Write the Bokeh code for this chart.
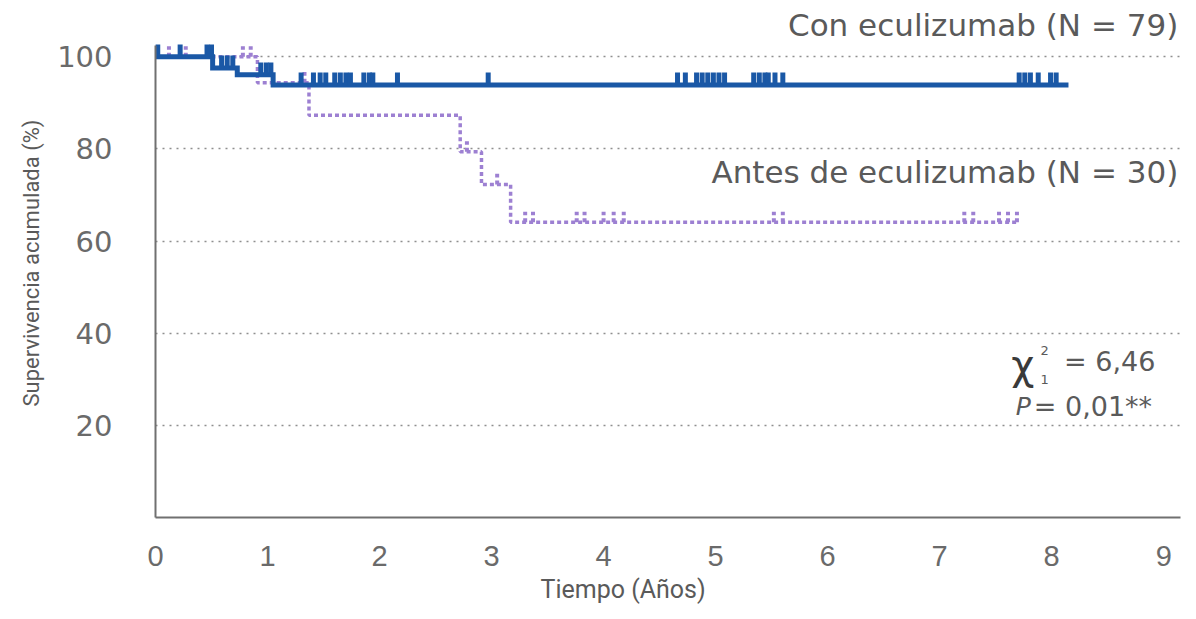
import numpy as np
from bokeh.plotting import figure
from bokeh.models import Range1d, FixedTicker, Title
from bokeh.core.properties import value
from bokeh.embed import file_html
from bokeh.resources import INLINE

# ---- data ----
con_times = [0.0, 0.51, 0.73, 1.05, 8.15]
con_surv = [100.0, 97.6, 96.1, 93.9, 93.9]
con_censor = [0.02, 0.22, 0.46, 0.50, 0.59, 0.64, 0.69, 0.94, 0.99, 1.03,
              1.30, 1.41, 1.47, 1.52, 1.60, 1.65, 1.70, 1.74, 1.86, 1.91, 1.94,
              2.16, 2.97, 4.66, 4.73, 4.83, 4.88, 4.93, 4.98, 5.03, 5.08,
              5.34, 5.39, 5.44, 5.47, 5.53, 5.60, 7.71, 7.76, 7.81, 7.88,
              7.99, 8.04]
antes_times = [0.0, 0.91, 1.37, 2.72, 2.91, 3.17, 7.70]
antes_surv = [100.0, 94.4, 87.3, 79.4, 72.3, 64.1, 64.1]
antes_censor = [0.12, 0.27, 0.78, 0.85, 1.33, 2.78, 3.05, 3.30, 3.37, 3.76,
                3.83, 4.00, 4.09, 4.18, 5.52, 5.60, 7.22, 7.30, 7.53, 7.61, 7.69]
x_ticks = list(range(10))
y_ticks = [20, 40, 60, 80, 100]
label_con = "Con eculizumab (N = 79)"
label_antes = "Antes de eculizumab (N = 30)"
chi_value = "= 6,46"
p_value = "= 0,01**"
x_label = "Tiempo (Años)"
y_label = "Supervivencia acumulada (%)"

BLUE = "#1a58a6"
PURPLE = "#9d80d2"
GREY = "#5a5a5a"


def level_at(times, surv, ts):
    idx = np.searchsorted(np.array(times), np.array(ts), side="right") - 1
    return np.array(surv)[idx]


p = figure(width=1188, height=611, output_backend="svg", toolbar_location=None,
           x_range=Range1d(0, 9.15), y_range=Range1d(0, 110.5),
           min_border_left=155, min_border_right=8, min_border_top=8,
           min_border_bottom=94)
p.outline_line_color = None
p.background_fill_color = "white"

# grid
p.xgrid.visible = False
p.ygrid.ticker = FixedTicker(ticks=y_ticks)
p.ygrid.grid_line_color = "#8f8f8f"
p.ygrid.grid_line_dash = "2 5"
p.ygrid.grid_line_width = 1.5

# axes
for ax in (p.xaxis, p.yaxis):
    ax.axis_line_color = "#707070"
    ax.axis_line_width = 2
    ax.major_tick_line_color = None
    ax.minor_tick_line_color = None
    ax.major_label_text_color = "#6a6a6a"

p.xaxis.ticker = FixedTicker(ticks=x_ticks)
p.xaxis.bounds = (0, 9.15)
p.xaxis.major_label_text_font = "Liberation Sans"
p.xaxis.major_label_text_font_size = "29px"
p.xaxis.major_label_standoff = 22

p.yaxis.ticker = FixedTicker(ticks=y_ticks)
p.yaxis.bounds = (0, 102.5)
p.yaxis.major_label_text_font = "DejaVu Sans"
p.yaxis.major_label_text_font_size = "29px"
p.yaxis.major_label_standoff = 37
p.yaxis.axis_label = y_label
p.yaxis.axis_label_text_font = "Roboto"
p.yaxis.axis_label_text_font_size = "22px"
p.yaxis.axis_label_text_font_style = "normal"
p.yaxis.axis_label_text_color = GREY
p.yaxis.axis_label_standoff = 10

p.add_layout(Title(text=x_label, align="left", offset=385, standoff=9,
                   text_font="Roboto", text_font_size="25px",
                   text_font_style="normal", text_color=GREY), "below")

# curves
p.step(x=antes_times, y=antes_surv, mode="after", line_width=3.5,
       line_color=PURPLE, line_dash="4 3")
a_lvl = level_at(antes_times, antes_surv, antes_censor)
p.segment(x0=antes_censor, y0=a_lvl, x1=antes_censor, y1=a_lvl + 2.3,
          line_width=4, line_color=PURPLE, line_dash="4 3", line_cap="butt")

p.step(x=con_times, y=con_surv, mode="after", line_width=5,
       line_color=BLUE, line_join="miter")
c_lvl = level_at(con_times, con_surv, con_censor)
p.segment(x0=con_censor, y0=c_lvl, x1=con_censor, y1=c_lvl + 2.7,
          line_width=5, line_color=BLUE, line_cap="butt")

# texts
p.text(x=[9.13], y=[106.9], text=[label_con], text_align="right",
       text_baseline="alphabetic", text_font=value("DejaVu Sans"),
       text_font_size="31px", text_color=GREY)
p.text(x=[9.13], y=[75.1], text=[label_antes], text_align="right",
       text_baseline="alphabetic", text_font=value("DejaVu Sans"),
       text_font_size="31px", text_color=GREY)

p.text(x=[7.64], y=[33.1], text=["χ"], text_align="left",
       text_baseline="alphabetic", text_font=value("DejaVu Sans"),
       text_font_size="40px", text_color="#3a3a3a")
p.text(x=[7.90], y=[36.2], text=["2"], text_align="left",
       text_baseline="alphabetic", text_font=value("DejaVu Sans"),
       text_font_size="13px", text_color=GREY)
p.text(x=[7.90], y=[30.0], text=["1"], text_align="left",
       text_baseline="alphabetic", text_font=value("DejaVu Sans"),
       text_font_size="13px", text_color=GREY)
p.text(x=[8.11], y=[33.8], text=[chi_value], text_align="left",
       text_baseline="alphabetic", text_font=value("DejaVu Sans"),
       text_font_size="27px", text_color=GREY)
p.text(x=[7.68], y=[24.0], text=["P"], text_align="left",
       text_baseline="alphabetic", text_font=value("DejaVu Sans"),
       text_font_size="25px", text_font_style="italic", text_color=GREY)
p.text(x=[7.84], y=[24.0], text=[p_value], text_align="left",
       text_baseline="alphabetic", text_font=value("DejaVu Sans"),
       text_font_size="27px", text_color=GREY)

open("out.html", "w").write(file_html(p, INLINE))
